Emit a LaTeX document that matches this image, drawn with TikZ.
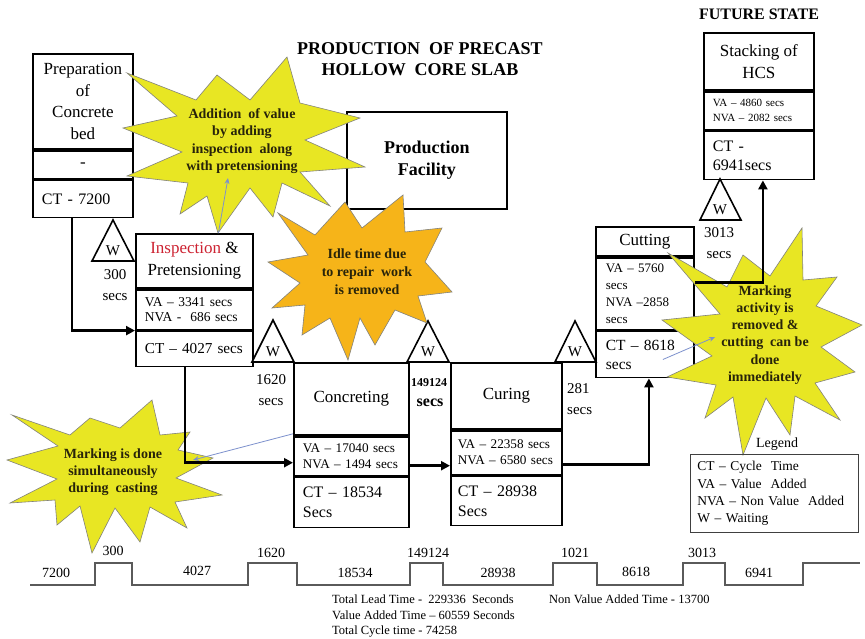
\documentclass[tikz,border=0pt]{standalone}
\usepackage{fontspec}
\setmainfont{Liberation Serif}
\usetikzlibrary{arrows.meta}

\definecolor{infoblue}{RGB}{125,145,205}
\definecolor{staryellow}{RGB}{232,230,35}
\definecolor{starorange}{RGB}{246,180,25}
\definecolor{staredge}{RGB}{130,130,125}
\definecolor{startext}{RGB}{40,36,10}
\definecolor{insred}{RGB}{205,35,50}
\definecolor{tlgray}{RGB}{90,90,90}

\newcommand\hcfs[2]{\fontsize{#1}{#2}\selectfont}

\pgfdeclarelayer{back}
\pgfsetlayers{back,main}

\begin{document}
\begin{tikzpicture}[x=1pt,y=-1pt,
  sect/.style={draw=black, line width=1.8pt, fill=white, anchor=north west,
    inner sep=0pt, align=center, font=\hcfs{17}{21.5}},
  sectL/.style={sect, align=left, inner xsep=9pt},
  info/.style={draw=infoblue, line width=0.8pt},
  pointer/.style={draw=infoblue, line width=0.8pt, -{Stealth[length=6pt,width=5pt]}},
  flow/.style={draw=black, line width=2.8pt, -{Triangle[length=9pt,width=9pt]}},
  waittri/.style={draw=black, line width=1.6pt, fill=white, line join=miter},
  wlbl/.style={font=\hcfs{15}{18}, inner sep=0pt},
  waitlbl/.style={font=\hcfs{15}{20.5}, align=center, inner sep=0pt},
  starY/.style={fill=staryellow, draw=staredge, line width=0.6pt, line join=miter},
  starO/.style={fill=starorange, draw=staredge, line width=0.6pt, line join=miter},
  startxt/.style={font=\bfseries\hcfs{14}{17.5}, text=startext, align=center, inner sep=0pt},
  tline/.style={draw=tlgray, line width=1.5pt},
  tlbl/.style={font=\hcfs{14}{17}, inner sep=0pt},
  sumtxt/.style={font=\hcfs{12.5}{15}, anchor=base west, inner sep=0pt}
]
\useasboundingbox (0,0) rectangle (865,639);
\fill[white] (0,0) rectangle (865,639);

% ---------- headings ----------
\node[font=\bfseries\hcfs{18}{21.5}, align=center, inner sep=0pt] (title) at (420,59)
  {PRODUCTION\ \ OF PRECAST\\HOLLOW\ \ CORE SLAB};
\node[font=\bfseries\hcfs{16}{19}, inner sep=0pt] (fstate) at (759,14) {FUTURE STATE};

% ---------- process boxes ----------
% Preparation of concrete bed
\node[sect, minimum width=100pt, minimum height=95pt] (prepA) at (32,53) {Preparation\\of\\Concrete\\bed};
\node[sect, minimum width=100pt, minimum height=28pt] (prepB) at (prepA.south west) {-};
\node[sectL, text width=82pt, minimum height=37pt, font=\hcfs{16}{19}] (prepC) at (prepB.south west) {\mbox{CT - 7200}};

% Inspection & pretensioning
\node[sect, minimum width=117pt, minimum height=54pt] (inspA) at (135,233) {\textcolor{insred}{Inspection} \&\\Pretensioning};
\node[sectL, text width=99pt, minimum height=40pt, font=\hcfs{13.5}{15}] (inspB) at (inspA.south west) {\mbox{VA -- 3341 secs}\\\mbox{NVA -\ \ 686 secs}};
\node[sectL, text width=99pt, minimum height=35pt, font=\hcfs{15.2}{19}] (inspC) at (inspB.south west) {\mbox{CT -- 4027 secs}};

% Concreting
\node[sect, minimum width=115pt, minimum height=72pt] (concA) at (293,362) {Concreting};
\node[sectL, text width=97pt, minimum height=39pt, font=\hcfs{13.2}{16}] (concB) at (concA.south west) {\mbox{VA -- 17040 secs}\\\mbox{NVA -- 1494 secs}};
\node[sectL, text width=97pt, minimum height=50pt, font=\hcfs{16}{20}] (concC) at (concB.south west) {CT -- 18534\\Secs};

% Curing
\node[sect, minimum width=111pt, minimum height=66pt] (curA) at (450,362) {Curing};
\node[sectL, inner xsep=7pt, text width=97pt, minimum height=44pt, font=\hcfs{13.2}{16}] (curB) at (curA.south west) {\mbox{VA -- 22358 secs}\\\mbox{NVA -- 6580 secs}};
\node[sectL, inner xsep=7pt, text width=97pt, minimum height=49pt, font=\hcfs{16}{20}] (curC) at (curB.south west) {CT -- 28938\\Secs};

% Cutting
\node[sect, minimum width=98pt, minimum height=29pt] (cutA) at (595,226) {Cutting};
\node[sectL, inner xsep=10pt, text width=78pt, minimum height=72pt, font=\hcfs{13}{17}] (cutB) at (cutA.south west) {VA -- 5760\\secs\\NVA --2858\\secs};
\node[sectL, inner xsep=10pt, text width=78pt, minimum height=46pt, font=\hcfs{15.5}{19}] (cutC) at (cutB.south west) {\mbox{CT -- 8618}\\secs};

% Stacking of HCS
\node[sect, minimum width=110pt, minimum height=57pt] (stackA) at (703,32) {Stacking of\\HCS};
\node[sectL, text width=92pt, minimum height=38pt, font=\hcfs{11}{15}] (stackB) at (stackA.south west) {\mbox{VA -- 4860 secs}\\\mbox{NVA -- 2082 secs}};
\node[sectL, text width=92pt, minimum height=48pt, font=\hcfs{16}{19}] (stackC) at (stackB.south west) {CT -\\6941secs};

% Production facility
\node[sect, minimum width=160pt, minimum height=97pt, font=\bfseries\hcfs{18}{22}] (prod) at (346,111) {Production\\Facility};

% ---------- information lines from the facility ----------
\begin{pgfonlayer}{back}
  \draw[info] ([yshift=19.5pt]prod.west) -- ([yshift=27.5pt]prepA.east);
  \draw[info] ([yshift=-17.5pt]prod.west) -- ([xshift=4pt]inspA.north);
  \draw[info] ([xshift=-21pt]prod.south) -- (concA.north);
  \draw[info] ([xshift=27pt]prod.south) -- (curA.north);
  \draw[info] ([yshift=14.5pt]prod.east) -- ([yshift=-7.5pt]stackA.west);
  \draw[info] ([yshift=-20.5pt]prod.east) -- (cutA.north);
\end{pgfonlayer}

% ---------- waiting triangles ----------
\draw[waittri] (92,261) -- (113,220) -- (134,261) -- cycle;
\node[wlbl] (w1) at (113,251) {W};
\draw[waittri] (252,362) -- (273,320) -- (294,362) -- cycle;
\node[wlbl] (w2) at (273,352) {W};
\draw[waittri] (407,362) -- (428,321) -- (449,362) -- cycle;
\node[wlbl] (w3) at (428,352) {W};
\draw[waittri] (555,362) -- (575,321) -- (596,362) -- cycle;
\node[wlbl] (w4) at (575,352) {W};
\draw[waittri] (700,220) -- (720,179) -- (741,220) -- cycle;
\node[wlbl] (w5) at (720,210) {W};

\node[waitlbl] (w1t) at (115,285) {300\\secs};
\node[waitlbl] (w2t) at (271,390) {1620\\secs};
\node[font=\bfseries\hcfs{12}{14}, inner sep=0pt] (w3a) at (429,383) {149124};
\node[font=\bfseries\hcfs{16}{19}, inner sep=0pt] (w3b) at (430,403) {secs};
\node[waitlbl, align=left, anchor=west] (w4t) at (567,399) {281\\secs};
\node[waitlbl] (w5t) at (719,243) {3013\\secs};

% ---------- improvement notes ----------
\draw[starY] (287,57) -- (300,103) -- (360,118) -- (305,140) -- (365,167) -- (300,172)
  -- (330,206) -- (282,183) -- (273,217) -- (250,188) -- (218,233) -- (207,196)
  -- (180,214) -- (188,183) -- (127,176) -- (182,152) -- (123,128) -- (177,116)
  -- (127,73) -- (196,100) -- (217,75) -- (250,100) -- cycle;
\node[startxt] (note1) at (242,141) {Addition\ \ of value\\by adding\\inspection\ \ along\\with pretensioning};

\draw[starO] (278,213) -- (315,235) -- (345,202) -- (362,228) -- (403,195) -- (405,232)
  -- (442,228) -- (425,262) -- (452,292) -- (418,296) -- (427,323) -- (395,310)
  -- (375,345) -- (360,318) -- (348,360) -- (330,318) -- (302,335) -- (305,305)
  -- (272,308) -- (300,283) -- (268,262) -- (308,255) -- cycle;
\node[startxt, font=\bfseries\hcfs{14}{18}] (note2) at (367,272) {Idle time due\\to repair\ \ work\\is removed};

\draw[starY] (12,415) -- (70,435) -- (90,418) -- (120,428) -- (152,400) -- (160,435)
  -- (190,432) -- (178,450) -- (213,458) -- (176,478) -- (222,495) -- (175,502)
  -- (187,528) -- (150,507) -- (140,542) -- (115,508) -- (92,553) -- (80,506)
  -- (57,525) -- (55,500) -- (10,503) -- (57,479) -- (7,460) -- (58,446) -- cycle;
\node[startxt, font=\bfseries\hcfs{14}{17}] (note3) at (113,472) {Marking is done\\simultaneously\\during\ \ casting};

\draw[starY] (668,253) -- (727,287) -- (743,255) -- (770,276) -- (802,228) -- (803,280)
  -- (837,277) -- (816,306) -- (862,325) -- (821,347) -- (855,372) -- (815,383)
  -- (840,420) -- (795,396) -- (790,435) -- (766,398) -- (743,455) -- (733,397)
  -- (705,418) -- (716,385) -- (667,377) -- (712,356) -- (662,320) -- (720,314) -- cycle;
\node[startxt, font=\bfseries\hcfs{14}{17.2}] (note4) at (765,335) {Marking\\activity is\\removed \&\\cutting\ \ can be\\done\\immediately};

% ---------- material flow ----------
\draw[flow] ([xshift=40pt]prepC.south west) |- (inspC.north west);
\draw[flow] ([xshift=50pt]inspC.south west) |- ([yshift=-6.5pt]concB.west);
\draw[flow] ([yshift=-9.5pt]concB.east) coordinate (f3) -- (f3 -| curB.west);
\draw[flow] ([yshift=-12pt]curB.east) -| ([xshift=4pt]cutC.south);
\draw[flow] ([yshift=11pt]cutB.east) -| ([xshift=4pt]stackC.south);

% ---------- note pointers ----------
\coordinate (p1) at (228,178);
\draw[pointer] ([xshift=24pt]inspA.north) -- (p1);
\coordinate (p2) at (193,460);
\draw[pointer] ([yshift=2pt]concA.south west) -- (p2);
\coordinate (p3) at (715,337);
\draw[pointer] ([xshift=18pt,yshift=-5pt]cutC.center) -- (p3);

% ---------- legend ----------
\node[font=\hcfs{14}{17}, inner sep=0pt] (legT) at (777,444) {Legend};
\node[draw=black!75, line width=0.9pt, anchor=north west, minimum width=168pt, minimum height=78pt,
  text width=154pt, inner xsep=7pt, inner ysep=0pt, align=left, font=\hcfs{13.5}{17.3}] (leg) at (690,454)
  {CT -- Cycle\ \ Time\\VA -- Value\ \ Added\\NVA -- Non Value\ \ Added\\W -- Waiting};

% ---------- timeline ----------
\draw[tline] (30,585) -- (95,585) -- (95,563) -- (132,563) -- (132,585) -- (248,585)
  -- (248,563) -- (297,563) -- (297,585) -- (410,585) -- (410,563) -- (443,563)
  -- (443,585) -- (553,585) -- (553,563) -- (597,563) -- (597,585) -- (683,585)
  -- (683,563) -- (725,563) -- (725,585) -- (803,585) -- (803,563) -- (860,563);

\node[tlbl] (tl1) at (56,573) {7200};
\node[tlbl] (tl2) at (113,551) {300};
\node[tlbl] (tl3) at (197,571) {4027};
\node[tlbl] (tl4) at (271,553) {1620};
\node[tlbl] (tl5) at (355,573) {18534};
\node[tlbl] (tl6) at (428,553) {149124};
\node[tlbl] (tl7) at (498,573) {28938};
\node[tlbl] (tl8) at (575,553) {1021};
\node[tlbl] (tl9) at (636,572) {8618};
\node[tlbl] (tl10) at (702,553) {3013};
\node[tlbl] (tl11) at (759,573) {6941};

\node[sumtxt] (sum1) at (332,603.5) {Total Lead Time -\ \ 229336\ \ Seconds};
\node[sumtxt] (sum2) at (332,619) {Value Added Time -- 60559 Seconds};
\node[sumtxt] (sum3) at (332,634.5) {Total Cycle time - 74258};
\node[sumtxt] (nva) at (549,603.5) {Non Value Added Time - 13700};
\end{tikzpicture}
\end{document}
